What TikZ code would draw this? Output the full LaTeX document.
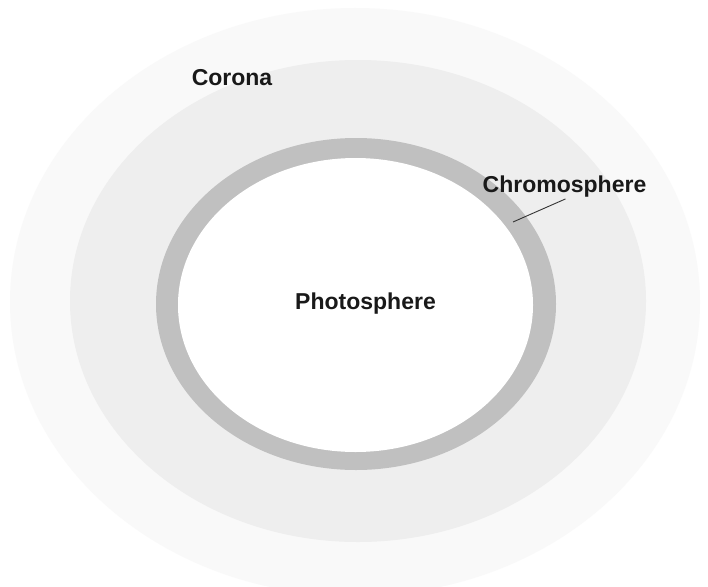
\documentclass[tikz,border=0pt]{standalone}
\usepackage{fontspec}
\setmainfont{Liberation Sans}
\definecolor{haze}{HTML}{F9F9F9}
\definecolor{coronagray}{HTML}{EEEEEE}
\definecolor{chromogray}{HTML}{C0C0C0}
\tikzset{label text/.style={font=\fontsize{23}{27}\selectfont\bfseries, text=black!90, inner sep=1pt}}
\begin{document}
\begin{tikzpicture}[x=1pt,y=-1pt]
\clip (0,0) rectangle (708,586);
\fill[white] (0,0) rectangle (708,586);

\fill[haze] (355,302) ellipse (345 and 294);
\fill[coronagray] (358,301) ellipse (288 and 241);
\fill[chromogray] (356,304) ellipse (200 and 166);
\fill[white] (355.5,305) ellipse (177.5 and 147);

\node[label text] (corona) at (232,78) {Corona};
\node[label text] (chromo) at (564.5,187) {Chromosphere};
\node[label text] (photo) at (365.5,304) {Photosphere};

\coordinate (ringpt) at (513,222);
\draw[black!80, line width=0.9pt] (ringpt) -- ([xshift=1pt]chromo.south);
\end{tikzpicture}
\end{document}
